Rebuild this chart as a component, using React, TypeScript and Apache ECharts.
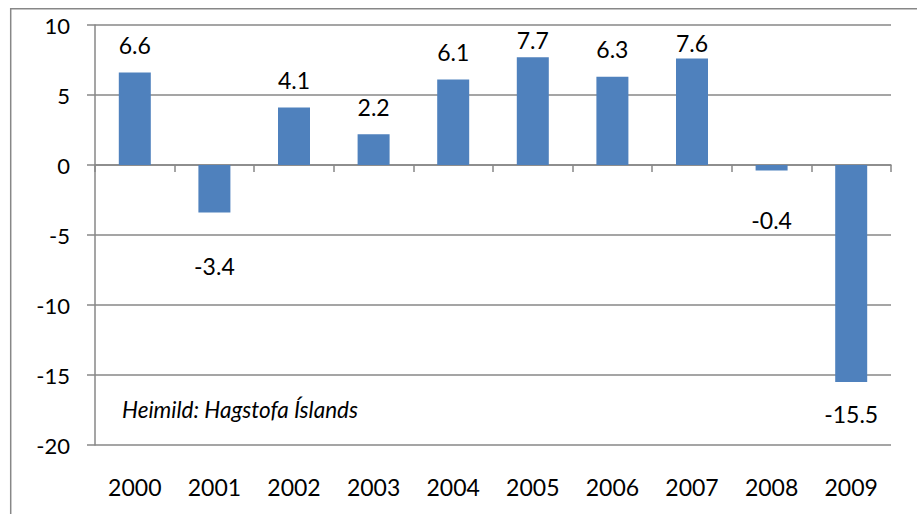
import React, { useEffect, useRef } from "react";
import * as echarts from "echarts";

const years = ["2000", "2001", "2002", "2003", "2004", "2005", "2006", "2007", "2008", "2009"];
const values = [6.6, -3.4, 4.1, 2.2, 6.1, 7.7, 6.3, 7.6, -0.4, -15.5];
const yTicks = { min: -20, max: 10, interval: 5 };
const sourceNote = "Heimild: Hagstofa Íslands";

// label distance from the bar end (style only)
const labelDistances = [16, 42, 16, 16, 16, 5.5, 16, 4.6, 38, 20];

const FONT = "Lato";
const GRAY = "#878787";

export default function App() {
  const ref = useRef<HTMLDivElement>(null);
  useEffect(() => {
    if (!ref.current) return;
    const chart = echarts.init(ref.current, undefined, { renderer: "svg" });
    chart.setOption({
      animation: false,
      backgroundColor: "#ffffff",
      grid: { left: 95, right: 26, top: 25, bottom: 69, containLabel: false },
      xAxis: [
        {
          type: "category",
          data: years,
          position: "bottom",
          axisLine: { show: true, onZero: true, lineStyle: { color: GRAY, width: 1.5 } },
          axisTick: { show: true, length: 7, inside: false, lineStyle: { color: GRAY, width: 1.5 } },
          axisLabel: { show: false },
          splitLine: { show: false },
        },
        {
          type: "category",
          data: years,
          position: "bottom",
          axisLine: { show: false, onZero: false },
          axisTick: { show: false },
          axisLabel: { show: true, margin: 30, color: "#000", fontFamily: FONT, fontSize: 23 },
          splitLine: { show: false },
        },
      ],
      yAxis: {
        type: "value",
        min: yTicks.min,
        max: yTicks.max,
        interval: yTicks.interval,
        axisLine: { show: true, lineStyle: { color: GRAY, width: 1.5 } },
        axisTick: { show: true, length: 8, lineStyle: { color: GRAY, width: 1.5 } },
        axisLabel: { margin: 25, color: "#000", fontFamily: FONT, fontSize: 22 },
        splitLine: { show: true, lineStyle: { color: GRAY, width: 1.5 } },
      },
      series: [
        {
          type: "bar",
          xAxisIndex: 0,
          barWidth: 32,
          itemStyle: { color: "#4F81BD" },
          data: values.map((v, i) => ({
            value: v,
            label: {
              show: true,
              position: v >= 0 ? "top" : "bottom",
              distance: labelDistances[i],
              color: "#000",
              fontFamily: FONT,
              fontSize: 23,
              formatter: (p: any) => String(p.value),
            },
          })),
        },
      ],
      graphic: [
        {
          type: "rect",
          shape: { x: 10.7, y: 8.7, width: 1000, height: 1000 },
          style: { fill: "none", stroke: GRAY, lineWidth: 1.5 },
          silent: true,
        },
        {
          type: "text",
          x: 122,
          y: 409,
          style: {
            text: sourceNote,
            fill: "#000",
            font: `italic 22.5px ${FONT}`,
            textVerticalAlign: "middle",
            verticalAlign: "middle",
          },
        },
      ],
    });
    return () => chart.dispose();
  }, []);
  return (
    <div
      ref={ref}
      style={{ position: "absolute", left: 0, top: 0, width: 917, height: 514 }}
    />
  );
}
